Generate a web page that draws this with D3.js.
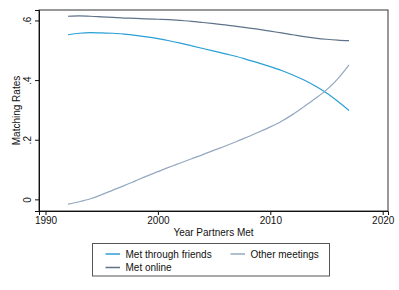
<!DOCTYPE html>
<html>
<head>
<meta charset="utf-8">
<script src="https://cdn.jsdelivr.net/npm/d3@7"></script>
<style>
  body { margin: 0; background: #fff; }
  svg { display: block; font-family: "Liberation Sans", Arial, sans-serif; }
</style>
</head>
<body>
<div class="chart"></div>
<script>
var W = 399, H = 290;
var margin = {left: 39, top: 10, right: 11, bottom: 79}; // plot frame 39..388, 10..211

// data
var years = d3.range(1992, 2018);
var friends = [.552, .557, .559, .558, .557, .554, .550, .545, .539, .532, .524, .515, .506,
               .497, .488, .479, .468, .457, .445, .432, .417, .400, .380, .357, .329, .298];
var online = [.614, .615, .614, .612, .610, .608, .607, .605, .604, .603, .600, .597, .593,
              .589, .585, .580, .575, .570, .564, .558, .552, .546, .541, .537, .534, .532];
var other = [-.016, -.008, .002, .016, .031, .046, .062, .078, .093, .108, .122, .136, .150,
             .165, .179, .194, .210, .226, .243, .262, .285, .311, .338, .367, .404, .451];
var xTicks = [1990, 2000, 2010, 2020];
var yTicks = [0, .2, .4, .6];
var yTickLabels = ["0", ".2", ".4", ".6"];

var series = [
  {key: "Met through friends", values: friends, color: "#2a9fd4"},
  {key: "Other meetings", values: other, color: "#94a8c0"},
  {key: "Met online", values: online, color: "#5e738a"}
];

var w = W - margin.left - margin.right;
var h = H - margin.top - margin.bottom;

var svg = d3.select(".chart").append("svg")
  .attr("width", W).attr("height", H);

var g = svg.append("g").attr("transform", `translate(${margin.left},${margin.top})`);

var xScale = d3.scaleLinear().domain([1989.42, 2020.47]).range([0, w]);
var yScale = d3.scaleLinear().domain([-0.039, 0.635]).range([h, 0]);

// frame
g.append("rect")
  .attr("width", w).attr("height", h)
  .attr("fill", "none").attr("stroke", "#333").attr("stroke-width", 1);

var xAxis = d3.axisBottom(xScale).tickValues(xTicks).tickFormat(d3.format("d")).tickSize(4).tickPadding(2);
g.append("g")
  .attr("transform", `translate(0,${h})`)
  .call(xAxis)
  .call(a => {
    a.select(".domain").attr("stroke", "#111");
    a.selectAll("line").attr("stroke", "#111");
    a.selectAll("text").attr("fill", "#111").style("font-size", "10px").style("font-family", "Liberation Sans, Arial, sans-serif");
  });

var yAxis = d3.axisLeft(yScale).tickValues(yTicks).tickFormat((d, i) => yTickLabels[i]).tickSize(4);
g.append("g")
  .call(yAxis)
  .call(a => {
    a.select(".domain").attr("stroke", "#111");
    a.selectAll("line").attr("stroke", "#111");
    a.selectAll("text")
      .attr("fill", "#111")
      .style("font-size", "10px")
      .style("font-family", "Liberation Sans, Arial, sans-serif")
      .attr("x", null).attr("dy", null)
      .attr("text-anchor", "middle")
      .attr("transform", "translate(-8,0) rotate(-90)")
      .attr("y", 0);
  });

// axis titles
svg.append("text")
  .attr("x", margin.left + w / 2 + 0)
  .attr("y", 236)
  .attr("text-anchor", "middle")
  .style("font-size", "10px")
  .attr("fill", "#111")
  .text("Year Partners Met");

svg.append("text")
  .attr("transform", `translate(20,${margin.top + h / 2}) rotate(-90)`)
  .attr("text-anchor", "middle")
  .style("font-size", "10px")
  .attr("fill", "#111")
  .text("Matching Rates");

// lines
var line = d3.line()
  .x((d, i) => xScale(years[i]))
  .y(d => yScale(d))
  .curve(d3.curveMonotoneX);

g.selectAll(".line-path")
  .data(series)
  .enter().append("path")
  .attr("class", "line-path")
  .attr("fill", "none")
  .attr("stroke", d => d.color)
  .attr("stroke-width", 1.2)
  .attr("d", d => line(d.values));

// legend
var legend = svg.append("g").attr("transform", "translate(92.5,243.5)");
legend.append("rect")
  .attr("width", 237).attr("height", 32.5)
  .attr("fill", "#fff").attr("stroke", "#555").attr("stroke-width", 1);

var legPos = [[13, 10.5], [138, 10.5], [13, 24]];
var item = legend.selectAll(".legend")
  .data(series)
  .enter().append("g")
  .attr("class", "legend")
  .attr("transform", (d, i) => `translate(${legPos[i][0]},${legPos[i][1]})`);

item.append("line")
  .attr("x1", 0).attr("x2", 14.5)
  .attr("stroke", d => d.color).attr("stroke-width", 1.5);

item.append("text")
  .attr("x", 20)
  .attr("y", 3.5)
  .style("font-size", "10px")
  .attr("fill", "#111")
  .text(d => d.key);
</script>
</body>
</html>
